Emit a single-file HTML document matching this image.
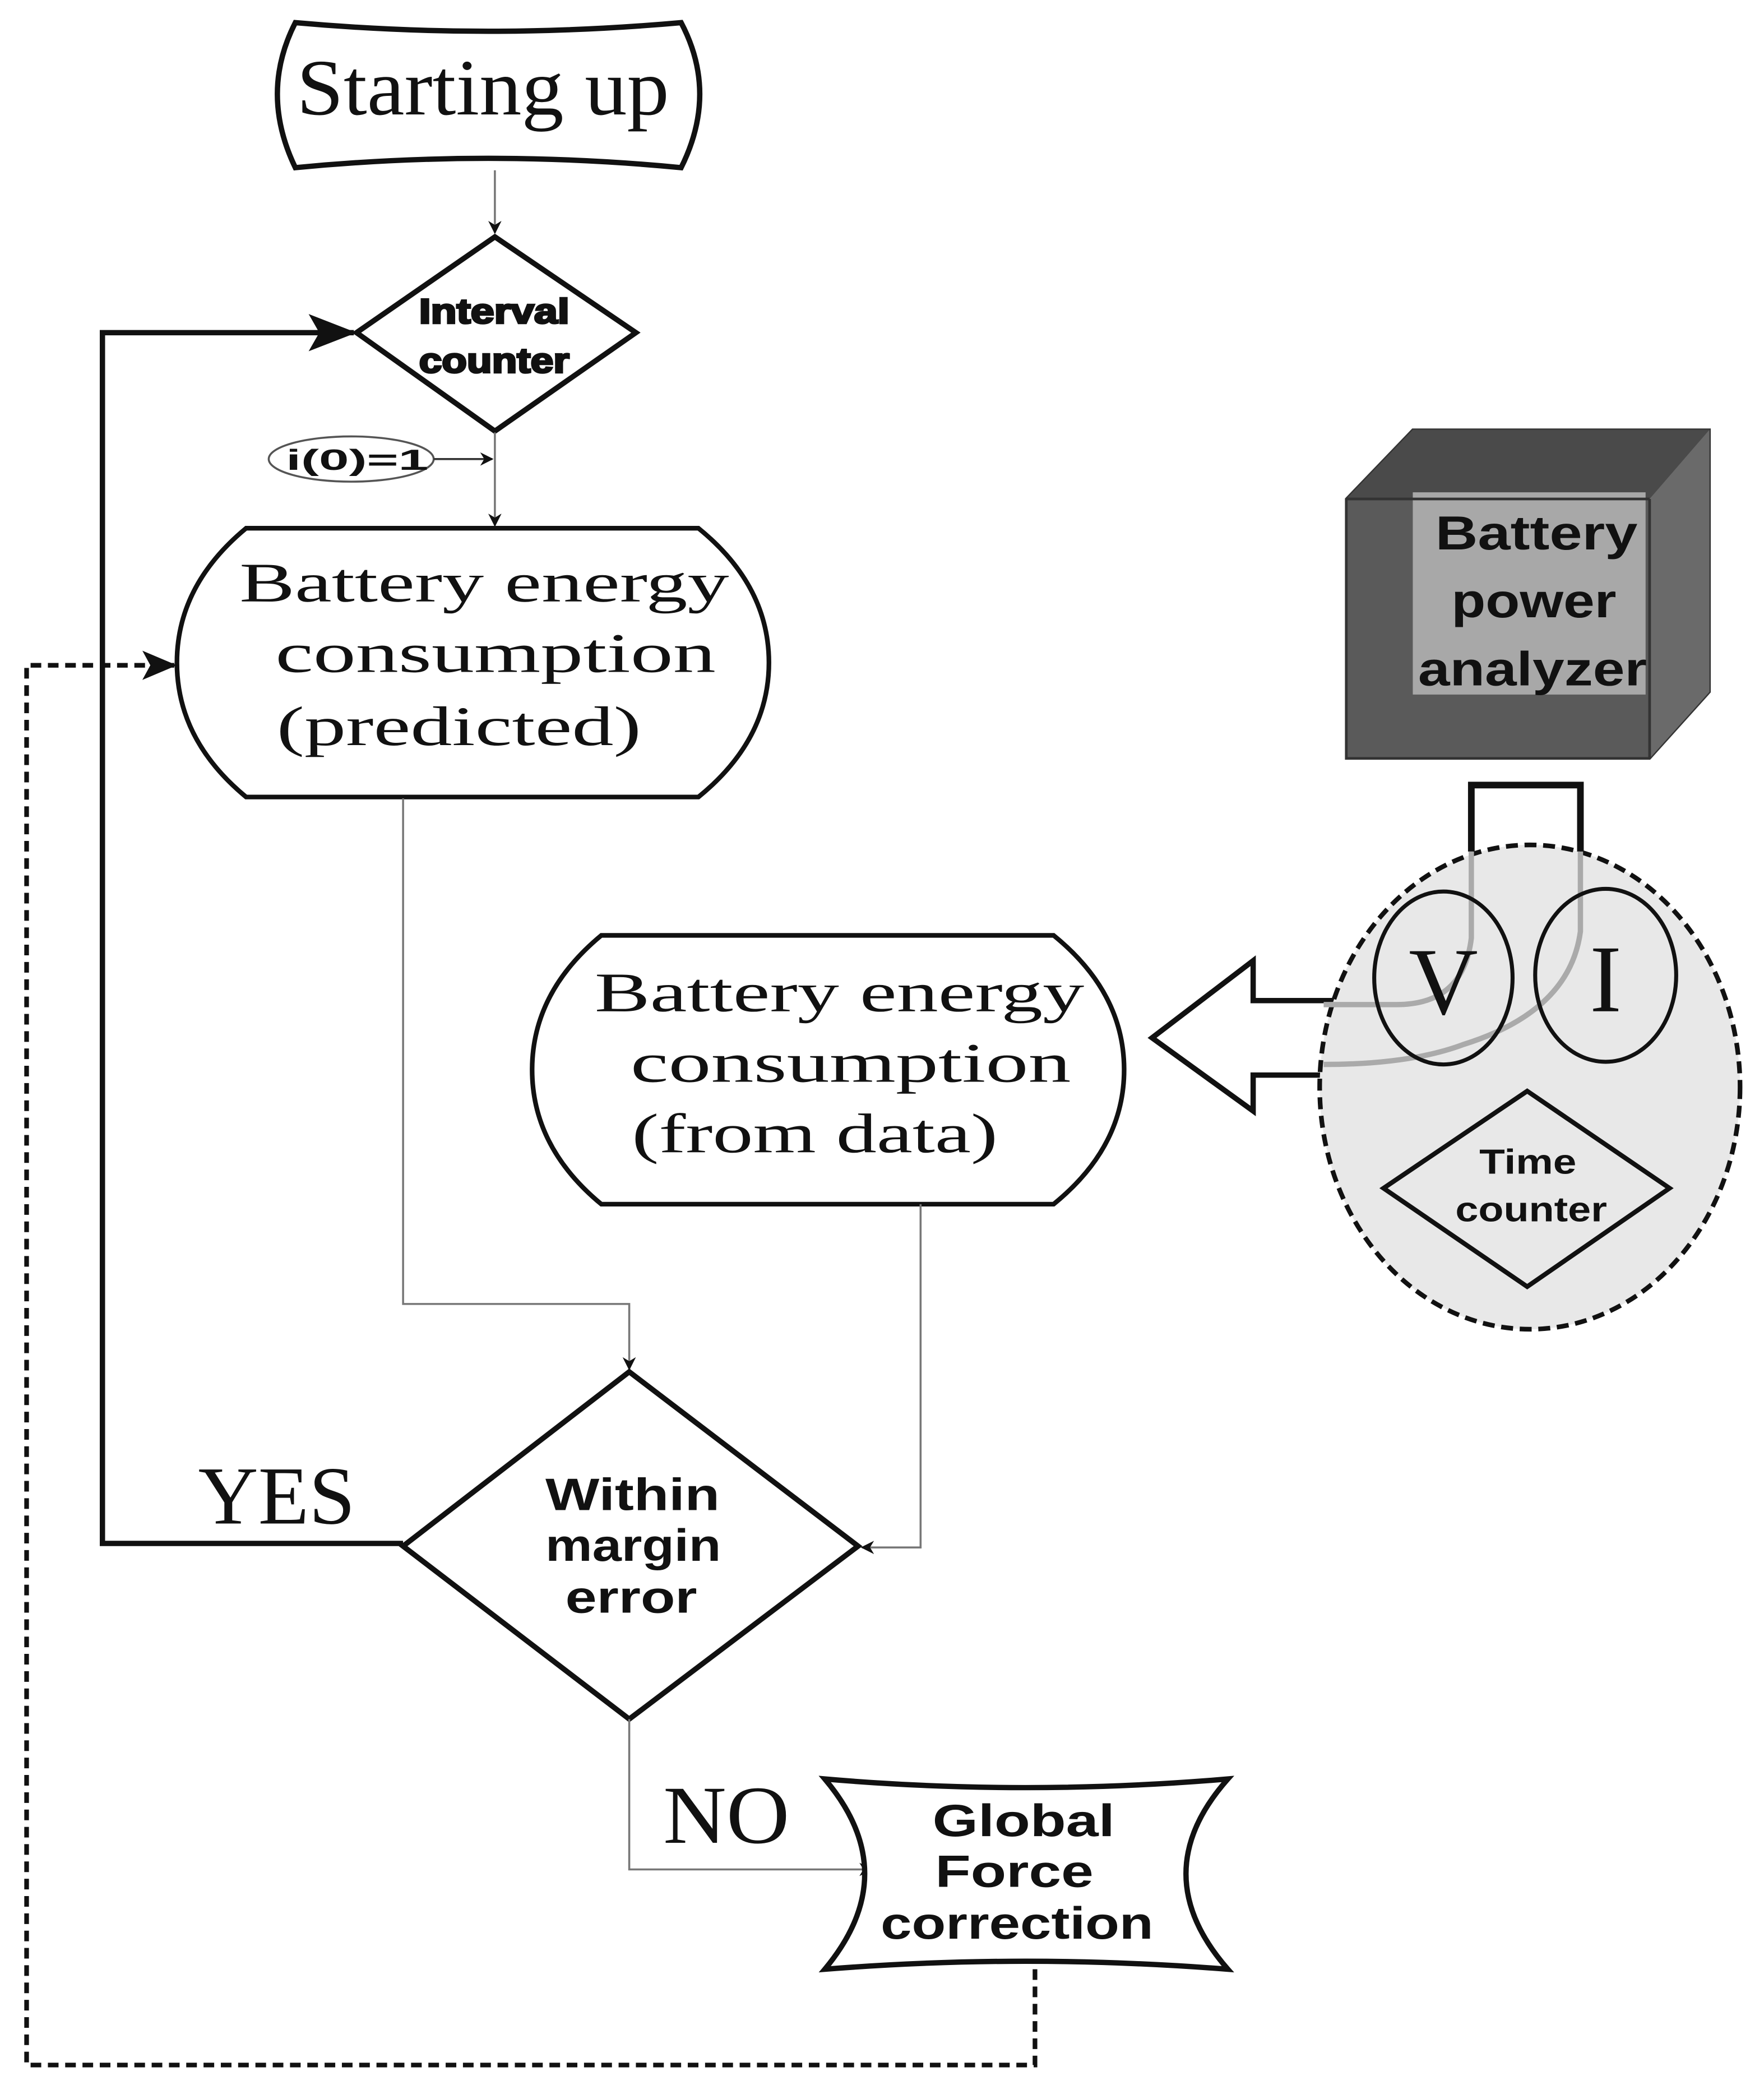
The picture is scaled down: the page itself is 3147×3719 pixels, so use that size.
<!DOCTYPE html>
<html><head><meta charset="utf-8"><style>html,body{margin:0;padding:0;background:#fff}svg{display:block}</style></head>
<body>
<svg width="3147" height="3719" viewBox="0 0 1326 1567" preserveAspectRatio="none" xmlns="http://www.w3.org/2000/svg">
<defs>
<marker id="a" markerWidth="10" markerHeight="10" refX="9" refY="5" orient="auto" markerUnits="userSpaceOnUse"><path d="M0,0 L10,5 L0,10 L3,5 z" fill="#111"/></marker>
<marker id="b" markerWidth="36" markerHeight="28" refX="34" refY="14" orient="auto" markerUnits="userSpaceOnUse"><path d="M0,0 L36,14 L0,28 L8,14 z" fill="#111"/></marker>
<marker id="c" markerWidth="26" markerHeight="22" refX="24" refY="11" orient="auto" markerUnits="userSpaceOnUse"><path d="M0,0 L26,11 L0,22 L6,11 z" fill="#111"/></marker>
</defs>
<g fill="none" stroke-linejoin="miter">
<path d="M222,17 Q367,30 512,17 Q540,70 512,126 Q367,112 222,126 Q195,70 222,17 z" stroke="#111" stroke-width="4" fill="#fff"/>
<line x1="372" y1="128" x2="372" y2="175" stroke="#777" stroke-width="1.5" marker-end="url(#a)"/>
<polygon points="372,178 478,250 372,324 268,250" stroke="#111" stroke-width="4" fill="#fff"/>
<line x1="372" y1="325" x2="372" y2="395" stroke="#777" stroke-width="1.5" marker-end="url(#a)"/>
<ellipse cx="264" cy="345" rx="62" ry="17" stroke="#555" stroke-width="1.5"/>
<line x1="326" y1="345" x2="370" y2="345" stroke="#333" stroke-width="1.5" marker-end="url(#a)"/>
<path d="M185,397 L525,397 Q578,440 578,498 Q578,556 525,599 L185,599 Q133,556 133,498 Q133,440 185,397 z" stroke="#111" stroke-width="3.5" fill="#fff"/>
<polyline points="303,1160 77,1160 77,250 266,250" stroke="#111" stroke-width="4" marker-end="url(#b)"/>
<polyline points="778,1480 778,1552 20,1552 20,500 131,500" stroke="#111" stroke-width="3.5" stroke-dasharray="8,5" marker-end="url(#c)"/>
<polyline points="303,600 303,980 473,980 473,1029" stroke="#777" stroke-width="1.5" marker-end="url(#a)"/>
<path d="M452,703 L792,703 Q845,746 845,804 Q845,862 792,905 L452,905 Q400,862 400,804 Q400,746 452,703 z" stroke="#111" stroke-width="3.5" fill="#fff"/>
<polyline points="692,905 692,1163 648,1163" stroke="#777" stroke-width="1.5" marker-end="url(#a)"/>
<polygon points="473,1031 645,1162 473,1292 303,1162" stroke="#111" stroke-width="4" fill="#fff"/>
<polyline points="473,1292 473,1405 655,1405" stroke="#777" stroke-width="1.5" marker-end="url(#a)"/>
<path d="M620,1337 Q770,1350 923,1337 Q860,1408 923,1480 Q770,1468 620,1480 Q680,1408 620,1337 z" stroke="#111" stroke-width="4" fill="#fff"/>
<polygon points="1005,752 942,752 942,722 866,780 942,835 942,808 1005,808" stroke="#111" stroke-width="4" fill="#fff"/>
<ellipse cx="1150" cy="817" rx="158" ry="182" stroke="#111" stroke-width="3.5" stroke-dasharray="9,5" fill="#e8e8e8"/>
<polyline points="1106,640 1106,590 1188,590 1188,640" stroke="#111" stroke-width="5"/>
<path d="M1106,640 L1106,705 Q1100,755 1050,755 L995,755" stroke="#aaa" stroke-width="4"/>
<path d="M1188,640 L1188,700 Q1180,760 1100,785 Q1060,800 995,800" stroke="#aaa" stroke-width="4"/>
<ellipse cx="1085" cy="735" rx="52" ry="65" stroke="#111" stroke-width="3"/>
<ellipse cx="1207" cy="733" rx="53" ry="65" stroke="#111" stroke-width="3"/>
<polygon points="1148,820 1255,893 1148,967 1040,893" stroke="#111" stroke-width="3.5"/>
<polygon points="1012,375 1062,323 1285,323 1285,520 1240,570 1012,570" fill="#5a5a5a" stroke="#333" stroke-width="2"/>
<polygon points="1062,323 1285,323 1240,375 1012,375" fill="#4a4a4a"/>
<polygon points="1240,375 1285,323 1285,520 1240,570" fill="#6a6a6a"/>
<rect x="1062" y="370" width="175" height="152" fill="#a8a8a8"/>
<line x1="1240" y1="375" x2="1240" y2="570" stroke="#333" stroke-width="2"/>
<line x1="1012" y1="375" x2="1240" y2="375" stroke="#333" stroke-width="2"/>
</g>
<g fill="#111">
<text x="363" y="86" font-family="Liberation Serif, serif" font-size="60" text-anchor="middle" textLength="280" lengthAdjust="spacingAndGlyphs">Starting up</text>
<g font-family="Liberation Sans, sans-serif" font-weight="bold">
<text x="315" y="243" font-size="26" stroke="#111" stroke-width="1.5" textLength="113" lengthAdjust="spacingAndGlyphs">Interval</text>
<text x="315" y="280" font-size="26" stroke="#111" stroke-width="1.5" textLength="113" lengthAdjust="spacingAndGlyphs">counter</text>
<text x="215" y="353" font-size="22" textLength="107" lengthAdjust="spacingAndGlyphs">i(0)=1</text>
<text x="410" y="1135" font-size="34" textLength="131" lengthAdjust="spacingAndGlyphs">Within</text>
<text x="410" y="1173" font-size="34" textLength="132" lengthAdjust="spacingAndGlyphs">margin</text>
<text x="425" y="1212" font-size="34" textLength="99" lengthAdjust="spacingAndGlyphs">error</text>
<text x="701" y="1380" font-size="34" textLength="137" lengthAdjust="spacingAndGlyphs">Global</text>
<text x="703" y="1418" font-size="34" textLength="119" lengthAdjust="spacingAndGlyphs">Force</text>
<text x="662" y="1457" font-size="34" textLength="205" lengthAdjust="spacingAndGlyphs">correction</text>
<text x="1112" y="882" font-size="26" textLength="73" lengthAdjust="spacingAndGlyphs">Time</text>
<text x="1094" y="918" font-size="26" textLength="114" lengthAdjust="spacingAndGlyphs">counter</text>
<text x="1079" y="413" font-size="36" textLength="152" lengthAdjust="spacingAndGlyphs">Battery</text>
<text x="1091" y="464" font-size="36" textLength="124" lengthAdjust="spacingAndGlyphs">power</text>
<text x="1066" y="515" font-size="36" textLength="172" lengthAdjust="spacingAndGlyphs">analyzer</text>
</g>
<g font-family="Liberation Serif, serif" font-size="42">
<text x="180" y="452" textLength="368" lengthAdjust="spacingAndGlyphs">Battery energy</text>
<text x="207" y="505" textLength="331" lengthAdjust="spacingAndGlyphs">consumption</text>
<text x="208" y="560" textLength="274" lengthAdjust="spacingAndGlyphs">(predicted)</text>
<text x="447" y="760" textLength="368" lengthAdjust="spacingAndGlyphs">Battery energy</text>
<text x="474" y="813" textLength="331" lengthAdjust="spacingAndGlyphs">consumption</text>
<text x="475" y="866" textLength="275" lengthAdjust="spacingAndGlyphs">(from data)</text>
</g>
<text x="208" y="1145" font-family="Liberation Serif, serif" font-size="62" text-anchor="middle" textLength="118" lengthAdjust="spacingAndGlyphs">YES</text>
<text x="546" y="1385" font-family="Liberation Serif, serif" font-size="62" text-anchor="middle" textLength="95" lengthAdjust="spacingAndGlyphs">NO</text>
<text x="1085" y="762" font-family="Liberation Serif, serif" font-size="72" text-anchor="middle">V</text>
<text x="1207" y="760" font-family="Liberation Serif, serif" font-size="72" text-anchor="middle">I</text>
</g>
</svg>
</body></html>
